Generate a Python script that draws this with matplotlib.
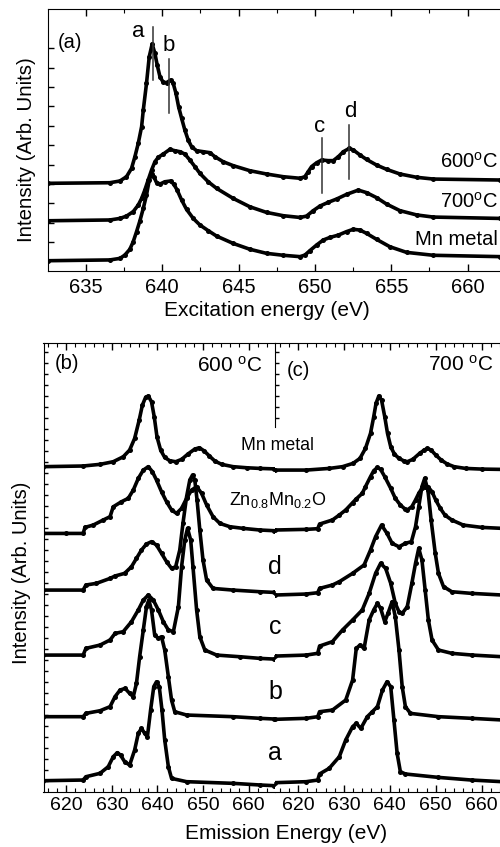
import matplotlib
matplotlib.use('Agg')
import matplotlib.pyplot as plt
import numpy as np

plt.rcParams['font.family'] = 'Liberation Sans'
plt.rcParams['mathtext.fontset'] = 'custom'
plt.rcParams['mathtext.rm'] = 'Liberation Sans'
plt.rcParams['mathtext.it'] = 'Liberation Sans'
plt.rcParams['font.size'] = 14

# ---------------- panel (a): excitation spectra ----------------
ex_600 = [632.49, 636.57, 637.23, 637.66, 637.99, 638.21, 638.43, 638.65, 638.76, 638.97,
          639.15, 639.34, 639.52, 639.67, 639.85, 640.07, 640.28, 640.55, 640.72, 640.90,
          641.07, 641.27, 641.48, 641.70, 641.92, 642.25, 642.69, 643.12, 643.45, 644.00,
          644.65, 645.74, 646.83, 647.93, 649.02, 649.34, 649.56, 649.78, 650.11, 650.44,
          650.87, 651.20, 651.53, 651.86, 652.25, 652.51, 652.95, 653.38, 654.04, 654.69,
          655.57, 656.66, 657.75, 662.12]
in_600 = [4.47, 4.50, 4.59, 4.81, 5.24, 5.84, 6.53, 7.39, 8.25, 9.62,
          11.00, 11.65, 11.17, 10.57, 9.97, 9.67, 9.66, 9.79, 9.62, 9.11,
          8.42, 7.82, 7.22, 6.70, 6.36, 6.15, 6.10, 6.05, 5.84, 5.58,
          5.38, 5.12, 4.95, 4.81, 4.73, 4.81, 5.07, 5.33, 5.53, 5.67,
          5.64, 5.64, 5.84, 6.10, 6.27, 6.19, 5.93, 5.70, 5.41, 5.19,
          4.95, 4.78, 4.69, 4.64]

ex_700 = [632.49, 636.57, 637.23, 637.66, 638.10, 638.43, 638.65, 638.86, 639.08, 639.30,
          639.52, 639.74, 640.07, 640.50, 640.83, 641.16, 641.48, 641.81, 642.14, 642.47,
          643.01, 643.56, 644.65, 645.74, 646.83, 647.93, 649.02, 649.45, 649.89, 650.33,
          650.87, 651.42, 652.07, 652.84, 653.38, 654.04, 654.69, 655.57, 656.66, 657.75,
          662.12]
in_700 = [2.54, 2.58, 2.66, 2.78, 3.01, 3.35, 3.69, 4.12, 4.64, 5.15,
          5.58, 5.81, 5.98, 6.22, 6.15, 6.10, 5.98, 5.67, 5.33, 4.98,
          4.55, 4.21, 3.69, 3.26, 2.97, 2.80, 2.71, 2.78, 3.06, 3.30,
          3.49, 3.66, 3.90, 4.12, 3.99, 3.73, 3.40, 3.06, 2.84, 2.73,
          2.66]

ex_mn = [632.49, 636.57, 637.23, 637.55, 637.88, 638.10, 638.32, 638.54, 638.76, 638.97,
         639.15, 639.30, 639.45, 639.63, 639.85, 640.17, 640.55, 640.76, 640.98, 641.27,
         641.59, 642.03, 642.47, 643.01, 643.56, 644.65, 645.74, 646.83, 647.93, 649.02,
         649.34, 649.67, 650.11, 650.55, 650.98, 651.53, 652.07, 652.51, 652.95, 653.38,
         654.04, 654.91, 656.00, 657.75, 662.12]
in_mn = [0.48, 0.52, 0.60, 0.77, 1.07, 1.46, 1.98, 2.54, 3.18, 3.87,
         4.64, 4.95, 4.81, 4.50, 4.43, 4.55, 4.59, 4.42, 4.12, 3.61,
         3.13, 2.66, 2.32, 2.03, 1.75, 1.37, 1.07, 0.86, 0.76, 0.69,
         0.77, 1.00, 1.29, 1.55, 1.68, 1.80, 1.98, 2.10, 2.06, 1.89,
         1.58, 1.20, 0.91, 0.76, 0.69]

# feature markers a-d: energy, line bottom, line top
feat_names = ['a', 'b', 'c', 'd']
feat_energy = [639.37, 640.44, 650.44, 652.25]
feat_low = [9.79, 8.08, 3.95, 4.67]
feat_high = [12.54, 10.86, 6.79, 7.47]
feat_text_x = [638.43, 640.46, 650.28, 652.29]
feat_text_y = [12.29, 11.56, 7.39, 8.16]

# ---------------- panels (b), (c): emission spectra ----------------
b_mn_e = [615.0, 623.7, 627.4, 630.3, 632.5, 633.9, 635.0, 636.0, 636.7, 637.4, 638.0, 638.7,
          639.3, 639.9, 640.7, 641.6, 642.7, 644.0, 645.3, 646.7, 648.2, 649.2, 650.2, 651.4,
          652.6, 654.1, 656.6, 659.6, 662.5, 665.5]
b_mn_i = [29.55, 29.61, 29.76, 30.0, 30.45, 31.06, 32.12, 33.79, 35.15, 35.85, 35.97, 35.45,
          34.09, 32.27, 31.06, 30.39, 30.09, 30.0, 30.21, 30.70, 31.15, 31.27, 31.0, 30.52,
          30.06, 29.76, 29.55, 29.45, 29.39, 29.35]

b_zn_e = [615.0, 620.0, 623.7, 624.1, 625.9, 628.1, 629.6, 630.3, 632.1, 633.6, 634.7, 635.8,
          636.9, 638.0, 638.9, 639.8, 640.9, 642.0, 643.1, 644.2, 645.3, 646.4, 647.5, 648.6,
          649.7, 650.8, 652.2, 653.7, 655.9, 658.8, 662.5, 665.5]
b_zn_i = [23.48, 23.48, 23.48, 24.03, 24.24, 24.70, 25.0, 25.9, 26.36, 26.67, 27.42, 28.48,
          29.24, 29.55, 29.09, 28.33, 27.27, 26.36, 25.61, 25.30, 25.76, 26.67, 27.42, 27.73,
          27.12, 26.06, 25.0, 24.39, 24.09, 23.94, 23.79, 23.73]

b_d_e = [615.0, 623.7, 624.3, 626.6, 629.6, 630.7, 632.8, 634.3, 635.4, 636.5, 637.6, 638.7,
         639.8, 640.9, 642.0, 643.1, 644.0, 644.9, 645.6, 646.4, 647.1, 647.7, 648.2, 648.7,
         649.3, 650.0, 650.8, 652.2, 656.6, 662.5, 665.5]
b_d_i = [18.33, 18.33, 18.79, 18.94, 19.39, 19.61, 19.85, 20.45, 21.21, 21.97, 22.52, 22.73,
         22.42, 21.67, 20.91, 20.30, 20.45, 21.97, 24.39, 26.82, 28.33, 28.79, 28.33, 26.52,
         23.79, 21.06, 19.24, 18.48, 18.33, 18.18, 18.12]

b_c_e = [615.0, 623.7, 624.3, 627.4, 629.6, 630.7, 632.5, 634.3, 635.8, 636.9, 638.0, 639.1,
         640.2, 641.3, 642.4, 643.5, 644.6, 645.3, 646.0, 646.6, 647.3, 647.8, 648.6, 649.3,
         650.4, 653.0, 658.1, 662.5, 665.5]
b_c_i = [12.42, 12.42, 13.03, 13.33, 13.79, 14.39, 14.55, 15.45, 16.52, 17.42, 17.88, 17.42,
         16.52, 15.45, 14.70, 14.55, 16.82, 20.45, 22.88, 23.94, 22.88, 20.45, 16.52, 14.09,
         12.88, 12.42, 12.27, 12.12, 12.06]

b_b_e = [615.0, 623.7, 624.3, 627.4, 629.6, 630.7, 631.8, 632.9, 633.9, 634.7, 635.4, 636.1,
         636.9, 637.6, 638.1, 638.7, 639.4, 640.2, 640.9, 641.6, 642.4, 643.1, 643.8, 646.4,
         656.6, 662.5, 665.5]
b_b_i = [6.82, 6.82, 7.12, 7.36, 7.73, 8.64, 9.24, 9.39, 8.94, 8.64, 9.85, 12.27,
         14.70, 16.82, 17.42, 16.52, 14.24, 13.94, 14.09, 12.88, 10.45, 8.33, 7.27, 6.97,
         6.82, 6.67, 6.61]

b_a_e = [615.0, 623.7, 624.3, 627.4, 629.2, 630.3, 631.2, 631.9, 632.8, 633.9, 635.0, 635.8,
         636.5, 637.2, 637.8, 638.5, 639.2, 639.8, 640.4, 641.0, 641.6, 642.4, 643.1, 646.4,
         656.6, 662.5, 665.5]
b_a_i = [1.0, 1.06, 1.36, 1.67, 2.27, 3.18, 3.55, 3.33, 2.73, 2.42, 3.79, 5.30,
         5.76, 5.30, 5.0, 7.42, 9.55, 10.0, 9.55, 7.42, 4.70, 2.27, 1.21, 0.91,
         0.76, 0.61, 0.55]

c_mn_e = [615.0, 621.8, 626.8, 629.7, 632.0, 633.5, 634.7, 635.8, 636.5, 637.0, 637.6, 638.2,
          638.9, 639.5, 640.2, 641.0, 642.0, 643.0, 643.8, 645.0, 646.5, 647.5, 648.2, 649.0,
          650.0, 651.2, 652.5, 654.0, 656.5, 660.0, 664.5]
c_mn_i = [29.24, 29.24, 29.39, 29.55, 29.85, 30.30, 31.21, 32.58, 34.09, 35.30, 35.97, 35.61,
          34.09, 32.58, 31.36, 30.70, 30.30, 30.09, 30.0, 30.21, 30.76, 31.06, 31.21, 31.06,
          30.61, 30.15, 29.79, 29.55, 29.39, 29.33, 29.30]

c_zn_e = [615.0, 621.8, 624.3, 624.7, 627.5, 629.0, 630.4, 631.9, 632.6, 634.0, 634.7, 635.8,
          636.5, 637.3, 638.0, 638.9, 640.2, 641.2, 642.3, 643.4, 643.8, 644.8, 645.6, 646.3,
          647.0, 647.7, 648.4, 649.2, 650.0, 651.0, 652.0, 653.5, 656.0, 660.0, 664.5]
c_zn_i = [23.79, 23.85, 23.91, 24.33, 24.70, 25.15, 25.61, 26.27, 26.58, 27.12, 27.73, 28.64,
          29.18, 29.48, 29.30, 28.64, 27.58, 26.67, 26.06, 25.67, 25.61, 25.91, 26.52, 27.12,
          27.58, 27.73, 27.67, 27.27, 26.52, 25.76, 25.15, 24.70, 24.24, 24.03, 23.94]

c_d_e = [615.0, 621.8, 624.3, 624.7, 627.5, 629.0, 631.9, 634.4, 635.8, 636.9, 638.2, 639.4,
         640.5, 642.0, 643.4, 644.7, 645.6, 646.3, 647.0, 647.6, 648.3, 649.0, 649.9, 650.6,
         651.7, 653.5, 657.8, 664.5]
c_d_i = [17.88, 17.97, 18.09, 18.48, 18.79, 19.09, 19.85, 20.61, 21.97, 23.18, 24.24, 23.48,
         22.58, 22.27, 22.58, 22.73, 24.09, 25.91, 27.73, 28.48, 27.42, 24.70, 21.67, 19.85,
         18.64, 18.18, 18.03, 17.88]

c_c_e = [615.0, 621.8, 624.3, 624.7, 627.5, 629.7, 631.9, 634.0, 635.5, 636.9, 638.0, 639.1,
         640.2, 641.2, 642.0, 642.7, 643.8, 644.8, 645.6, 646.3, 647.0, 647.7, 648.4, 649.2,
         650.6, 653.5, 658.0, 664.5]
c_c_i = [12.33, 12.42, 12.58, 13.24, 13.64, 14.70, 15.61, 16.52, 18.03, 19.85, 20.76, 20.30,
         18.94, 17.12, 16.36, 16.21, 16.82, 18.94, 20.76, 22.12, 21.06, 18.33, 15.61, 13.79,
         12.88, 12.58, 12.42, 12.27]

c_b_e = [615.0, 621.8, 624.3, 624.7, 627.5, 630.4, 631.9, 632.7, 633.5, 634.4, 635.5, 636.5,
         637.3, 638.0, 638.9, 639.6, 640.5, 641.2, 642.0, 642.7, 643.4, 644.5, 650.6, 657.8,
         664.5]
c_b_i = [6.58, 6.67, 6.82, 7.27, 7.42, 8.33, 10.15, 13.03, 13.33, 13.03, 15.61, 16.52,
         17.12, 16.67, 15.45, 16.21, 17.27, 15.91, 12.88, 9.55, 7.73, 7.12, 6.82, 6.67,
         6.52]

c_a_e = [615.0, 621.8, 624.3, 624.7, 626.8, 629.0, 630.4, 631.9, 632.7, 633.7, 635.1, 636.2,
         637.3, 638.4, 639.4, 640.2, 640.9, 641.6, 642.3, 643.4, 650.6, 657.8, 664.5]
c_a_i = [0.82, 0.91, 1.06, 1.61, 2.12, 3.18, 4.70, 5.91, 6.21, 5.76, 6.82, 7.27,
         7.73, 9.24, 10.0, 9.55, 6.52, 3.48, 1.82, 1.61, 1.30, 1.06, 0.91]

b_curves = [(b_mn_e, b_mn_i), (b_zn_e, b_zn_i), (b_d_e, b_d_i),
            (b_c_e, b_c_i), (b_b_e, b_b_i), (b_a_e, b_a_i)]
c_curves = [(c_mn_e, c_mn_i), (c_zn_e, c_zn_i), (c_d_e, c_d_i),
            (c_c_e, c_c_i), (c_b_e, c_b_i), (c_a_e, c_a_i)]

sty = dict(color='black', lw=2.6, marker='o', ms=3.6, mew=0)


def style_ticks(ax, size):
    ax.tick_params(which='both', direction='in', top=True, labelsize=size)
    ax.tick_params(which='major', length=5, width=1)
    ax.tick_params(which='minor', length=3, width=0.8)
    ax.tick_params(axis='y', labelleft=False)


fig = plt.figure(figsize=(5.0, 8.47), dpi=100)
W, H = 500.0, 847.0

# panel (a)
ax_a = fig.add_axes([47.7 / W, (H - 271) / H, (W - 47.7) / W, 261.7 / H])
ax_a.plot(ex_600, in_600, **sty)
ax_a.plot(ex_700, in_700, **sty)
ax_a.plot(ex_mn, in_mn, **sty)
for n, e, lo, hi, tx, ty in zip(feat_names, feat_energy, feat_low, feat_high, feat_text_x, feat_text_y):
    ax_a.plot([e, e], [lo, hi], color='#333333', lw=1.1)
    ax_a.text(tx, ty, n, ha='center', va='center', fontsize=16)
ax_a.set_xlim(632.5, 662.12)
ax_a.set_ylim(-0.05, 13.44)
ax_a.set_xticks([635, 640, 645, 650, 655, 660])
ax_a.set_xticks(np.arange(635, 662, 2.5), minor=True)
ax_a.set_yticks(np.arange(1.43, 12, 1.0))
style_ticks(ax_a, 14.5)
ax_a.tick_params(axis='x', which='major', pad=5)
ax_a.tick_params(axis='y', which='major', length=4)
ax_a.spines['right'].set_visible(False)
ax_a.text(633.96, 11.75, '(a)', ha='center', va='center', fontsize=14.5)
ax_a.text(661.95, 5.57, r'600$^{\rm o}$C', ha='right', va='center', fontsize=14.5)
ax_a.text(661.95, 3.51, r'700$^{\rm o}$C', ha='right', va='center', fontsize=14.5)
ax_a.text(661.95, 1.55, 'Mn metal', ha='right', va='center', fontsize=14.5)
fig.text(267 / W, 1 - 311 / H, 'Excitation energy (eV)', ha='center', va='center', fontsize=15)
fig.text(26.7 / W, 1 - 150 / H, 'Intensity (Arb. Units)', ha='center', va='center',
         rotation=90, fontsize=14.7)

# panels (b) and (c)
bot, hgt = (H - 791.7) / H, 449.0 / H
ax_b = fig.add_axes([43.5 / W, bot, 231.5 / W, hgt])
ax_c = fig.add_axes([275.0 / W, bot, 225.0 / W, hgt])

for e, i in b_curves:
    ax_b.plot(e, i, **sty)
for (be, bi), (ce, ci) in zip(b_curves, c_curves):
    ax_c.plot(ce, ci, **sty)
    ax_c.plot([615, 615], [bi[-1], ci[0]], color='black', lw=1.2, clip_on=False)

for ax, xr in ((ax_b, 665.8), (ax_c, 663.65)):
    ax.set_xlim(615, xr)
    ax.set_ylim(0, 40.82)
    ax.set_xticks([620, 630, 640, 650, 660])
    ax.set_xticks(np.arange(616, 665, 2), minor=True)
    style_ticks(ax, 14)
    ax.tick_params(axis='x', which='major', pad=4)
    ax.spines['right'].set_visible(False)
ax_b.set_yticks(np.arange(1, 40.5, 1.0))
ax_b.tick_params(axis='y', which='major', length=3)
ax_c.set_yticks(np.arange(34, 40.5, 1.0))
ax_c.tick_params(axis='y', which='major', length=3)
ax_c.spines['left'].set_bounds(33.15, 40.82)

ax_b.text(620.1, 38.9, '(b)', ha='center', va='center', fontsize=14.5)
ax_b.text(663.1, 38.7, r'600 $^{\rm o}$C', ha='right', va='center', fontsize=15)
ax_c.text(620.0, 38.3, '(c)', ha='center', va='center', fontsize=14.5)
ax_c.text(662.6, 38.8, r'700 $^{\rm o}$C', ha='right', va='center', fontsize=15)
ax_c.text(615.5, 31.5, 'Mn metal', ha='center', va='center', fontsize=12.8)
ax_c.text(615.7, 26.5, r'Zn$_{0.8}$Mn$_{0.2}$O', ha='center', va='center', fontsize=13)
for lab, yy in zip(['d', 'c', 'b', 'a'], [20.45, 15.0, 9.1, 3.5]):
    ax_c.text(615.0, yy, lab, ha='center', va='center', fontsize=18)

fig.text(286 / W, 1 - 833 / H, 'Emission Energy (eV)', ha='center', va='center', fontsize=15)
fig.text(21.7 / W, 1 - 573 / H, 'Intensity (Arb. Units)', ha='center', va='center',
         rotation=90, fontsize=14.5)

fig.savefig('out.png', dpi=100)
